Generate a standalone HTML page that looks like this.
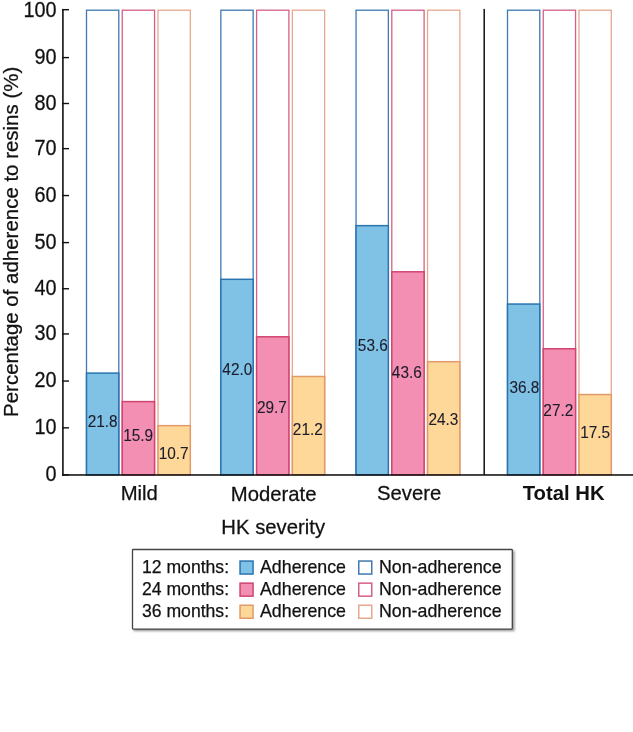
<!DOCTYPE html>
<html><head><meta charset="utf-8"><style>
html,body{margin:0;padding:0;background:#fff;width:633px;height:732px;overflow:hidden;font-family:"Liberation Sans", sans-serif;}
</style></head><body>
<svg width="633" height="732" viewBox="0 0 633 732" style="position:absolute;left:0;top:0;will-change:transform">
<rect x="0" y="0" width="633" height="732" fill="#ffffff"/>
<rect x="86.50" y="10.20" width="32.30" height="463.95" fill="#fff" stroke="#3f7ab0" stroke-width="1.3"/>
<rect x="86.50" y="373.10" width="32.30" height="101.80" fill="#80c2e6" stroke="#2a74b0" stroke-width="1.5"/>
<text transform="translate(102.70,427.00) scale(0.9625,1.0)" font-family='"Liberation Sans", sans-serif' font-size="16.0" fill="#1c1c2a" text-anchor="middle" stroke="#1c1c2a" stroke-width="0.1">21.8</text>
<rect x="122.25" y="10.20" width="32.30" height="463.95" fill="#fff" stroke="#d46086" stroke-width="1.3"/>
<rect x="122.25" y="401.60" width="32.30" height="73.30" fill="#f38fb3" stroke="#d0456f" stroke-width="1.5"/>
<text transform="translate(138.10,441.00) scale(0.9625,1.0)" font-family='"Liberation Sans", sans-serif' font-size="16.0" fill="#1c1c2a" text-anchor="middle" stroke="#1c1c2a" stroke-width="0.1">15.9</text>
<rect x="158.00" y="10.20" width="32.30" height="463.95" fill="#fff" stroke="#e6a88e" stroke-width="1.3"/>
<rect x="158.00" y="425.65" width="32.30" height="49.25" fill="#fdd899" stroke="#e29a6a" stroke-width="1.5"/>
<text transform="translate(173.70,459.00) scale(0.9625,1.0)" font-family='"Liberation Sans", sans-serif' font-size="16.0" fill="#1c1c2a" text-anchor="middle" stroke="#1c1c2a" stroke-width="0.1">10.7</text>
<rect x="220.85" y="10.20" width="32.30" height="463.95" fill="#fff" stroke="#3f7ab0" stroke-width="1.3"/>
<rect x="220.85" y="279.30" width="32.30" height="195.60" fill="#80c2e6" stroke="#2a74b0" stroke-width="1.5"/>
<text transform="translate(237.30,375.00) scale(0.9625,1.0)" font-family='"Liberation Sans", sans-serif' font-size="16.0" fill="#1c1c2a" text-anchor="middle" stroke="#1c1c2a" stroke-width="0.1">42.0</text>
<rect x="256.60" y="10.20" width="32.30" height="463.95" fill="#fff" stroke="#d46086" stroke-width="1.3"/>
<rect x="256.60" y="336.80" width="32.30" height="138.10" fill="#f38fb3" stroke="#d0456f" stroke-width="1.5"/>
<text transform="translate(271.85,413.00) scale(0.9625,1.0)" font-family='"Liberation Sans", sans-serif' font-size="16.0" fill="#1c1c2a" text-anchor="middle" stroke="#1c1c2a" stroke-width="0.1">29.7</text>
<rect x="292.35" y="10.20" width="32.30" height="463.95" fill="#fff" stroke="#e6a88e" stroke-width="1.3"/>
<rect x="292.35" y="376.50" width="32.30" height="98.40" fill="#fdd899" stroke="#e29a6a" stroke-width="1.5"/>
<text transform="translate(307.80,435.00) scale(0.9625,1.0)" font-family='"Liberation Sans", sans-serif' font-size="16.0" fill="#1c1c2a" text-anchor="middle" stroke="#1c1c2a" stroke-width="0.1">21.2</text>
<rect x="356.05" y="10.20" width="32.30" height="463.95" fill="#fff" stroke="#3f7ab0" stroke-width="1.3"/>
<rect x="356.05" y="225.65" width="32.30" height="249.25" fill="#80c2e6" stroke="#2a74b0" stroke-width="1.5"/>
<text transform="translate(372.80,351.00) scale(0.9625,1.0)" font-family='"Liberation Sans", sans-serif' font-size="16.0" fill="#1c1c2a" text-anchor="middle" stroke="#1c1c2a" stroke-width="0.1">53.6</text>
<rect x="391.80" y="10.20" width="32.30" height="463.95" fill="#fff" stroke="#d46086" stroke-width="1.3"/>
<rect x="391.80" y="271.80" width="32.30" height="203.10" fill="#f38fb3" stroke="#d0456f" stroke-width="1.5"/>
<text transform="translate(406.80,378.00) scale(0.9625,1.0)" font-family='"Liberation Sans", sans-serif' font-size="16.0" fill="#1c1c2a" text-anchor="middle" stroke="#1c1c2a" stroke-width="0.1">43.6</text>
<rect x="427.55" y="10.20" width="32.30" height="463.95" fill="#fff" stroke="#e6a88e" stroke-width="1.3"/>
<rect x="427.55" y="361.70" width="32.30" height="113.20" fill="#fdd899" stroke="#e29a6a" stroke-width="1.5"/>
<text transform="translate(443.40,425.00) scale(0.9625,1.0)" font-family='"Liberation Sans", sans-serif' font-size="16.0" fill="#1c1c2a" text-anchor="middle" stroke="#1c1c2a" stroke-width="0.1">24.3</text>
<rect x="507.50" y="10.20" width="32.30" height="463.95" fill="#fff" stroke="#3f7ab0" stroke-width="1.3"/>
<rect x="507.50" y="304.05" width="32.30" height="170.85" fill="#80c2e6" stroke="#2a74b0" stroke-width="1.5"/>
<text transform="translate(524.40,393.00) scale(0.9625,1.0)" font-family='"Liberation Sans", sans-serif' font-size="16.0" fill="#1c1c2a" text-anchor="middle" stroke="#1c1c2a" stroke-width="0.1">36.8</text>
<rect x="543.25" y="10.20" width="32.30" height="463.95" fill="#fff" stroke="#d46086" stroke-width="1.3"/>
<rect x="543.25" y="348.75" width="32.30" height="126.15" fill="#f38fb3" stroke="#d0456f" stroke-width="1.5"/>
<text transform="translate(558.30,416.00) scale(0.9625,1.0)" font-family='"Liberation Sans", sans-serif' font-size="16.0" fill="#1c1c2a" text-anchor="middle" stroke="#1c1c2a" stroke-width="0.1">27.2</text>
<rect x="579.00" y="10.20" width="32.30" height="463.95" fill="#fff" stroke="#e6a88e" stroke-width="1.3"/>
<rect x="579.00" y="394.55" width="32.30" height="80.35" fill="#fdd899" stroke="#e29a6a" stroke-width="1.5"/>
<text transform="translate(595.10,438.00) scale(0.9625,1.0)" font-family='"Liberation Sans", sans-serif' font-size="16.0" fill="#1c1c2a" text-anchor="middle" stroke="#1c1c2a" stroke-width="0.1">17.5</text>
<rect x="62.1" y="8.9" width="1.6" height="466.7" fill="#111"/>
<rect x="62.1" y="474.2" width="571" height="1.55" fill="#111"/>
<rect x="483.45" y="8.9" width="1.5" height="466" fill="#111"/>
<rect x="62" y="474.15" width="7.0" height="1.4" fill="#111"/>
<text transform="translate(56.50,481.25) scale(1,1.07)" font-family='"Liberation Sans", sans-serif' font-size="19.8" fill="#111" text-anchor="end" stroke="#111" stroke-width="0.25">0</text>
<rect x="62" y="427.15" width="7.0" height="1.4" fill="#111"/>
<text transform="translate(56.50,434.25) scale(1,1.07)" font-family='"Liberation Sans", sans-serif' font-size="19.8" fill="#111" text-anchor="end" stroke="#111" stroke-width="0.25">10</text>
<rect x="62" y="380.35" width="7.0" height="1.4" fill="#111"/>
<text transform="translate(56.50,387.45) scale(1,1.07)" font-family='"Liberation Sans", sans-serif' font-size="19.8" fill="#111" text-anchor="end" stroke="#111" stroke-width="0.25">20</text>
<rect x="62" y="333.25" width="7.0" height="1.4" fill="#111"/>
<text transform="translate(56.50,340.35) scale(1,1.07)" font-family='"Liberation Sans", sans-serif' font-size="19.8" fill="#111" text-anchor="end" stroke="#111" stroke-width="0.25">30</text>
<rect x="62" y="288.05" width="7.0" height="1.4" fill="#111"/>
<text transform="translate(56.50,295.15) scale(1,1.07)" font-family='"Liberation Sans", sans-serif' font-size="19.8" fill="#111" text-anchor="end" stroke="#111" stroke-width="0.25">40</text>
<rect x="62" y="241.90" width="7.0" height="1.4" fill="#111"/>
<text transform="translate(56.50,249.00) scale(1,1.07)" font-family='"Liberation Sans", sans-serif' font-size="19.8" fill="#111" text-anchor="end" stroke="#111" stroke-width="0.25">50</text>
<rect x="62" y="194.85" width="7.0" height="1.4" fill="#111"/>
<text transform="translate(56.50,201.95) scale(1,1.07)" font-family='"Liberation Sans", sans-serif' font-size="19.8" fill="#111" text-anchor="end" stroke="#111" stroke-width="0.25">60</text>
<rect x="62" y="147.95" width="7.0" height="1.4" fill="#111"/>
<text transform="translate(56.50,155.05) scale(1,1.07)" font-family='"Liberation Sans", sans-serif' font-size="19.8" fill="#111" text-anchor="end" stroke="#111" stroke-width="0.25">70</text>
<rect x="62" y="102.80" width="7.0" height="1.4" fill="#111"/>
<text transform="translate(56.50,109.90) scale(1,1.07)" font-family='"Liberation Sans", sans-serif' font-size="19.8" fill="#111" text-anchor="end" stroke="#111" stroke-width="0.25">80</text>
<rect x="62" y="56.90" width="7.0" height="1.4" fill="#111"/>
<text transform="translate(56.50,64.00) scale(1,1.07)" font-family='"Liberation Sans", sans-serif' font-size="19.8" fill="#111" text-anchor="end" stroke="#111" stroke-width="0.25">90</text>
<rect x="62" y="9.00" width="7.0" height="1.4" fill="#111"/>
<text transform="translate(56.50,17.30) scale(1,1.07)" font-family='"Liberation Sans", sans-serif' font-size="19.8" fill="#111" text-anchor="end" stroke="#111" stroke-width="0.25">100</text>
<text transform="translate(17.5,241.85) rotate(-90) scale(1,1.02)" font-family='"Liberation Sans", sans-serif' font-size="20.46" fill="#111" stroke="#111" stroke-width="0.25" text-anchor="middle">Percentage of adherence to resins (%)</text>
<text transform="translate(139.30,500.20) scale(1,1.0)" font-family='"Liberation Sans", sans-serif' font-size="20.3" fill="#111" text-anchor="middle" stroke="#111" stroke-width="0.25">Mild</text>
<text transform="translate(273.60,500.60) scale(1,1.04)" font-family='"Liberation Sans", sans-serif' font-size="20.3" fill="#111" text-anchor="middle" stroke="#111" stroke-width="0.25">Moderate</text>
<text transform="translate(409.10,500.40) scale(1,1.04)" font-family='"Liberation Sans", sans-serif' font-size="20.3" fill="#111" text-anchor="middle" stroke="#111" stroke-width="0.25">Severe</text>
<text transform="translate(563.60,500.40) scale(1,1.04)" font-family='"Liberation Sans", sans-serif' font-size="20.3" font-weight="bold" fill="#111" text-anchor="middle">Total HK</text>
<text transform="translate(273.20,533.50) scale(1,1.04)" font-family='"Liberation Sans", sans-serif' font-size="20.3" fill="#111" text-anchor="middle" stroke="#111" stroke-width="0.25">HK severity</text>
<defs><filter id="sh" x="-5%" y="-10%" width="110%" height="130%"><feGaussianBlur stdDeviation="1.1"/></filter></defs>
<rect x="133.6" y="550.6" width="381" height="80.6" fill="#9a9a9e" filter="url(#sh)"/>
<rect x="132.5" y="549.5" width="379.8" height="79.6" rx="0.8" fill="#fff" stroke="#454545" stroke-width="1.3"/>
<text transform="translate(142.00,573.40) scale(1,1.0)" font-family='"Liberation Sans", sans-serif' font-size="17.6" fill="#111" text-anchor="start" stroke="#111" stroke-width="0.25">12 months:</text>
<rect x="240.05" y="561.05" width="13" height="13" fill="#80c2e6" stroke="#2a74b0" stroke-width="1.5"/>
<text transform="translate(260.00,573.40) scale(1,1.0)" font-family='"Liberation Sans", sans-serif' font-size="17.8" fill="#111" text-anchor="start" stroke="#111" stroke-width="0.25">Adherence</text>
<rect x="358.75" y="561.05" width="13" height="13" fill="#fff" stroke="#3f7ab0" stroke-width="1.5"/>
<text transform="translate(379.00,573.40) scale(1,1.0)" font-family='"Liberation Sans", sans-serif' font-size="17.8" fill="#111" text-anchor="start" stroke="#111" stroke-width="0.25">Non-adherence</text>
<text transform="translate(142.00,595.40) scale(1,1.0)" font-family='"Liberation Sans", sans-serif' font-size="17.6" fill="#111" text-anchor="start" stroke="#111" stroke-width="0.25">24 months:</text>
<rect x="240.05" y="583.15" width="13" height="13" fill="#f38fb3" stroke="#d0456f" stroke-width="1.5"/>
<text transform="translate(260.00,595.40) scale(1,1.0)" font-family='"Liberation Sans", sans-serif' font-size="17.8" fill="#111" text-anchor="start" stroke="#111" stroke-width="0.25">Adherence</text>
<rect x="358.75" y="583.15" width="13" height="13" fill="#fff" stroke="#d46086" stroke-width="1.5"/>
<text transform="translate(379.00,595.40) scale(1,1.0)" font-family='"Liberation Sans", sans-serif' font-size="17.8" fill="#111" text-anchor="start" stroke="#111" stroke-width="0.25">Non-adherence</text>
<text transform="translate(142.00,617.40) scale(1,1.0)" font-family='"Liberation Sans", sans-serif' font-size="17.6" fill="#111" text-anchor="start" stroke="#111" stroke-width="0.25">36 months:</text>
<rect x="240.05" y="605.25" width="13" height="13" fill="#fdd899" stroke="#e29a6a" stroke-width="1.5"/>
<text transform="translate(260.00,617.40) scale(1,1.0)" font-family='"Liberation Sans", sans-serif' font-size="17.8" fill="#111" text-anchor="start" stroke="#111" stroke-width="0.25">Adherence</text>
<rect x="358.75" y="605.25" width="13" height="13" fill="#fff" stroke="#e6a88e" stroke-width="1.5"/>
<text transform="translate(379.00,617.40) scale(1,1.0)" font-family='"Liberation Sans", sans-serif' font-size="17.8" fill="#111" text-anchor="start" stroke="#111" stroke-width="0.25">Non-adherence</text>
</svg>
</body></html>
